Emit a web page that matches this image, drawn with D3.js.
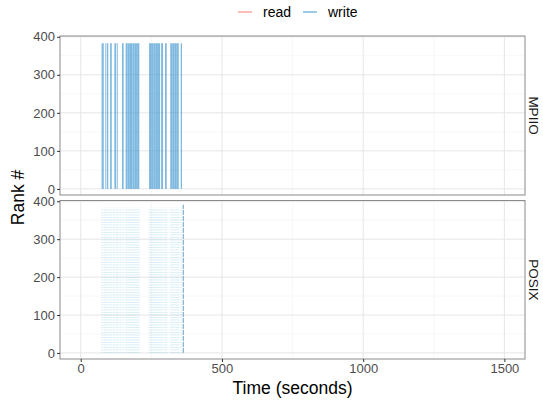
<!DOCTYPE html>
<html><head><meta charset="utf-8">
<script src="https://cdn.jsdelivr.net/npm/d3@7"></script>
<style>body{margin:0;background:#fff}svg{display:block;font-family:"Liberation Sans",Arial,sans-serif}</style>
</head><body>
<svg id="c" width="543" height="402"></svg>
<script>
// ---- data ----
const facets = ["MPIIO", "POSIX"];
const legendKeys = ["read", "write"];
const legendColors = ["#F8766D", "#3d95cf"];
const xTicks = [0, 500, 1000, 1500];
const xMinor = [250, 750, 1250];
const yTicks = [0, 100, 200, 300, 400];
const yMinor = [50, 150, 250, 350];
const rankMin = 0, rankMax = 383;
// MPIIO write intervals (seconds)
const mpiioStart = [74, 87, 93, 104, 119, 127.5, 146, 159, 166.5, 174.2, 183.5, 191.2, 199.5, 242, 249.3, 258.3, 266, 273.7, 284.5, 298.5, 317, 324.4, 333, 340.5, 354];
const mpiioEnd   = [81.5, 90.5, 97.5, 110, 125, 131, 152, 166, 173.8, 183, 190.8, 199, 207.5, 248.9, 257.9, 265.6, 273.3, 281, 291.5, 304.5, 324, 332.6, 340.1, 347, 358.5];
// POSIX write times (seconds)
const posixTimes = [75, 79, 84, 88, 92, 97, 101, 106, 110, 116, 121, 126, 130, 135, 140, 146, 152, 160, 163, 167, 171, 175, 179, 183, 187, 191, 195, 199, 203, 207,
  242, 246, 250, 254, 258, 262, 266, 270, 274, 278, 282, 286, 291, 296, 301, 305, 318, 322, 326, 330, 334, 338, 342, 346, 352, 357];
const posixLast = [363];

// ---- layout ----
const svg = d3.select("#c");
const L = 60, R = 525;
const panels = [{name: facets[0], top: 36, bottom: 195}, {name: facets[1], top: 200.5, bottom: 359}];
const x = d3.scaleLinear().domain([-73.4, 1573]).range([L, R]);
const writeColor = legendColors[1];

panels.forEach((p, i) => {
  const y = d3.scaleLinear().domain([-16, 402]).range([p.bottom, p.top]);
  const g = svg.append("g");
  // grid
  g.selectAll(".xm").data(xMinor).join("line").attr("x1", d => x(d)).attr("x2", d => x(d))
    .attr("y1", p.top).attr("y2", p.bottom).attr("stroke", "#f2f2f2").attr("stroke-width", 0.6);
  g.selectAll(".ym").data(yMinor).join("line").attr("y1", d => y(d)).attr("y2", d => y(d))
    .attr("x1", L).attr("x2", R).attr("stroke", "#f2f2f2").attr("stroke-width", 0.6);
  g.selectAll(".xM").data(xTicks).join("line").attr("x1", d => x(d)).attr("x2", d => x(d))
    .attr("y1", p.top).attr("y2", p.bottom).attr("stroke", "#e6e6e6").attr("stroke-width", 1);
  g.selectAll(".yM").data(yTicks).join("line").attr("y1", d => y(d)).attr("y2", d => y(d))
    .attr("x1", L).attr("x2", R).attr("stroke", "#e6e6e6").attr("stroke-width", 1);

  if (i === 0) {
    g.selectAll(".bar").data(mpiioStart.map((s, k) => [s, mpiioEnd[k]])).join("rect")
      .attr("x", d => x(d[0])).attr("width", d => Math.max(0.8, x(d[1]) - x(d[0])))
      .attr("y", y(rankMax)).attr("height", y(rankMin) - y(rankMax))
      .attr("fill", writeColor).attr("fill-opacity", 0.66);
  } else {
    g.selectAll(".pl").data(posixTimes).join("line")
      .attr("x1", d => x(d)).attr("x2", d => x(d))
      .attr("y1", y(rankMin)).attr("y2", y(rankMax))
      .attr("stroke", "#8fd0ec").attr("stroke-opacity", 0.4).attr("stroke-width", 1)
      .attr("stroke-dasharray", "1,1.5");
    g.selectAll(".plast").data(posixLast).join("line")
      .attr("x1", d => x(d)).attr("x2", d => x(d))
      .attr("y1", y(rankMin)).attr("y2", y(rankMax) - 3)
      .attr("stroke", "#6a9fc2").attr("stroke-width", 1).attr("stroke-dasharray", "5,1");
  }

  // border
  g.append("rect").attr("x", L).attr("y", p.top).attr("width", R - L).attr("height", p.bottom - p.top)
    .attr("fill", "none").attr("stroke", "#8a8a8a").attr("stroke-width", 1);

  // y axis
  const ya = g.append("g").attr("transform", `translate(${L},0)`)
    .call(d3.axisLeft(y).tickValues(yTicks).tickSize(3).tickPadding(2).tickFormat(d3.format("d")));
  ya.select(".domain").remove();
  ya.selectAll("line").attr("stroke", "#333");
  ya.selectAll("text").attr("fill", "#4d4d4d").style("font-size", "13px").style("font-family", "Liberation Sans, Arial, sans-serif");

  // strip label
  svg.append("text").attr("transform", `translate(${533},${(p.top + p.bottom) / 2}) rotate(90)`)
    .attr("text-anchor", "middle").attr("dominant-baseline", "central")
    .style("font-size", "13.5px").attr("fill", "#1a1a1a").text(p.name);
});

// x axis
const xa = svg.append("g").attr("transform", `translate(0,${panels[1].bottom})`)
  .call(d3.axisBottom(x).tickValues(xTicks).tickSize(3).tickPadding(2).tickFormat(d3.format("d")));
xa.select(".domain").remove();
xa.selectAll("line").attr("stroke", "#333");
xa.selectAll("text").attr("fill", "#4d4d4d").style("font-size", "13px").style("font-family", "Liberation Sans, Arial, sans-serif");

// axis titles
svg.append("text").attr("x", (L + R) / 2).attr("y", 394).attr("text-anchor", "middle")
  .style("font-size", "17.5px").attr("fill", "#000").text("Time (seconds)");
svg.append("text").attr("transform", `translate(24,${(panels[0].top + panels[1].bottom) / 2}) rotate(-90)`)
  .attr("text-anchor", "middle").style("font-size", "17.5px").attr("fill", "#000").text("Rank #");

// legend
const lg = svg.append("g");
const lx = [238, 303];
legendKeys.forEach((k, i) => {
  lg.append("line").attr("x1", lx[i]).attr("x2", lx[i] + 14).attr("y1", 12).attr("y2", 12)
    .attr("stroke", legendColors[i]).attr("stroke-width", 1.2).attr("stroke-opacity", i ? 0.85 : 0.8);
  lg.append("text").attr("x", lx[i] + 25).attr("y", 17).style("font-size", "14px").attr("fill", "#000").text(k);
});
</script>
</body></html>
